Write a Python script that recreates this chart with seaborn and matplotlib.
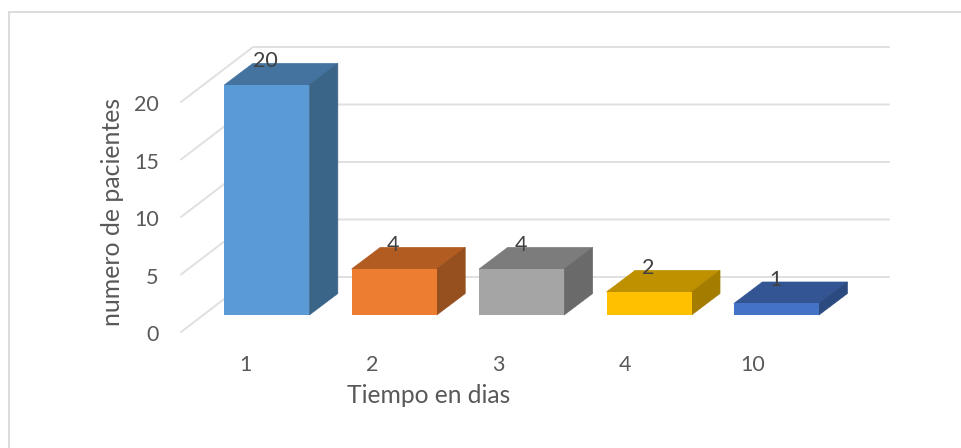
import matplotlib
matplotlib.use("Agg")
import matplotlib.pyplot as plt
import pandas as pd
import seaborn as sns
from matplotlib.lines import Line2D
from matplotlib.patches import Polygon

categories = ["1", "2", "3", "4", "10"]
patients = [20, 4, 4, 2, 1]
front_colors = ["#5B9BD5", "#ED7D31", "#A5A5A5", "#FFC000", "#4472C4"]
top_colors = ["#44739F", "#B35C22", "#7C7C7C", "#BF9000", "#335593"]
side_colors = ["#3A6488", "#964F1E", "#6A6A6A", "#A37C00", "#2B4A80"]
value_ticks = [0, 5, 10, 15, 20]

sns.set_theme(style="white")
plt.rcParams["font.family"] = ["Lato", "DejaVu Sans"]

W, H = 961, 448
fig = plt.figure(figsize=(W / 100, H / 100), dpi=100, facecolor="white")

# Chart frame: only its top and left edges fall inside the figure
fig.add_artist(Line2D([8.5 / W, 8.5 / W, 1], [0, 1 - 12 / H, 1 - 12 / H],
                      transform=fig.transFigure, color="#D9D9D9", linewidth=1.3,
                      solid_joinstyle="miter"))

# Plot area in pixels; one category step is 127.4 px, one value unit 11.5 px
left, right, top, bottom = 181, 889, 47, 335
ax = fig.add_axes([left / W, 1 - bottom / H, (right - left) / W, (bottom - top) / H])
step_px, unit_px, base_px, first_px = 127.4, 11.5, 315, 266.8
x_lim = ((left - first_px) / step_px, (right - first_px) / step_px)
y_lim = ((base_px - bottom) / unit_px, (base_px - top) / unit_px)
ax.set_xlim(x_lim)
ax.set_ylim(y_lim)

# Oblique offset of the bar depth, and of the walls behind them
depth_x, depth_y = 28.5 / step_px, 21.5 / unit_px
wall_x, wall_y = 72 / step_px, 55 / unit_px
floor = (base_px - 332) / unit_px

# Side wall and back wall gridlines
for v in value_ticks:
    y = floor + v
    ax.plot([x_lim[0], x_lim[0] + wall_x, x_lim[1]], [y, y + wall_y, y + wall_y],
            color="#E0E0E0", lw=1.4, zorder=1, clip_on=False,
            solid_joinstyle="miter")

# Bar front faces
bar_width = 85 / step_px
df = pd.DataFrame({"dias": categories, "pacientes": patients})
sns.barplot(data=df, x="dias", y="pacientes", hue="dias", order=categories,
            hue_order=categories, palette=front_colors, width=bar_width,
            dodge=False, legend=False, saturation=1, ax=ax, zorder=3,
            linewidth=0)

# Top and side faces of each bar, with the value label above
for i, v in enumerate(patients):
    x0, x1 = i - bar_width / 2, i + bar_width / 2
    ax.add_patch(Polygon([(x0, v), (x1, v), (x1 + depth_x, v + depth_y), (x0 + depth_x, v + depth_y)],
                         closed=True, facecolor=top_colors[i], edgecolor=top_colors[i],
                         linewidth=0.5, zorder=2.5))
    ax.add_patch(Polygon([(x1, 0), (x1 + depth_x, depth_y), (x1 + depth_x, v + depth_y), (x1, v)],
                         closed=True, facecolor=side_colors[i], edgecolor=side_colors[i],
                         linewidth=0.5, zorder=2.5))
    ax.text(i - 1 / step_px, v + 24 / unit_px, str(v), ha="center", va="center",
            color="#404040", fontsize=15.5, zorder=5)

# Value axis sits on the front edge of the side wall; labels run a little below the lines
ax.set_yticks([floor + v - 1.3 / unit_px for v in value_ticks], [str(v) for v in value_ticks])
ax.set_xticks([(245 + i * 126.8 - first_px) / step_px for i in range(len(categories))], categories)
ax.tick_params(axis="y", length=0, pad=16, labelsize=15.5, labelcolor="#595959")
ax.tick_params(axis="x", length=0, pad=14.5, labelsize=15.5, labelcolor="#595959")
ax.set_xlabel("")
ax.set_ylabel("")
ax.set_xlim(x_lim)
ax.set_ylim(y_lim)
for s in ax.spines.values():
    s.set_visible(False)
ax.patch.set_alpha(0)

fig.text(429 / W, 1 - 395 / H, "Tiempo en dias", ha="center", va="center",
         fontsize=17.7, color="#595959")
fig.text(113 / W, 1 - 212 / H, "numero de pacientes", ha="center", va="center",
         rotation=90, fontsize=17.9, color="#595959")

fig.savefig("out.png", dpi=100)
